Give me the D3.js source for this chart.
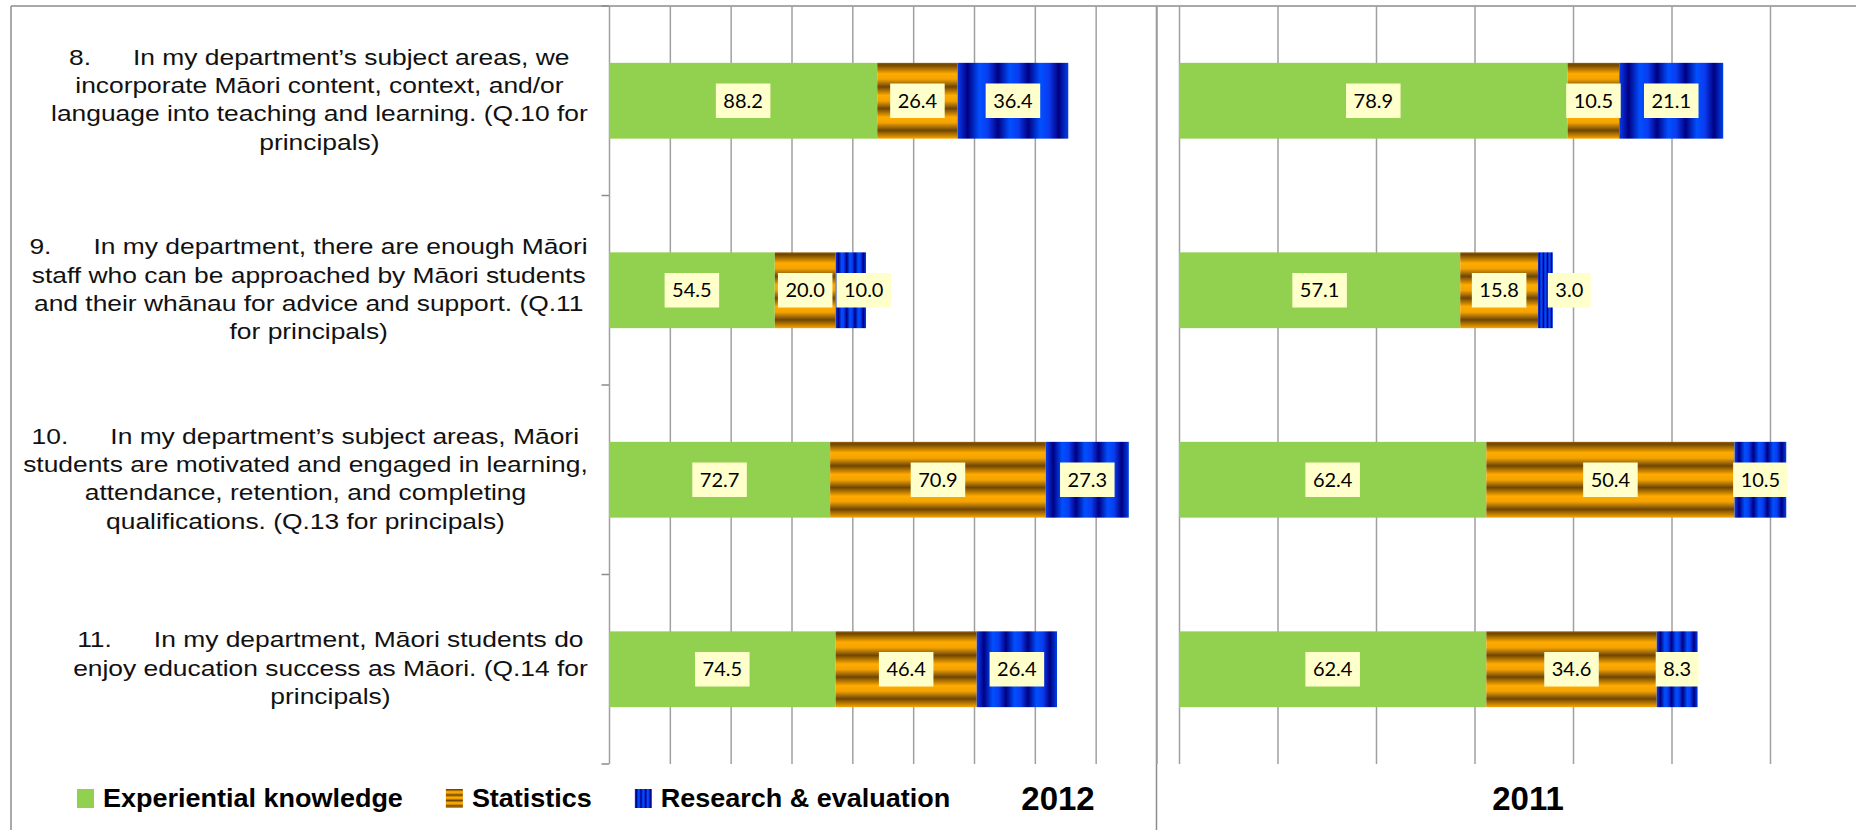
<!DOCTYPE html>
<html>
<head>
<meta charset="utf-8">
<script src="https://cdn.jsdelivr.net/npm/d3@7"></script>
<style>
    body { margin: 0; background: #ffffff; }
    svg { display: block; font-family: "Liberation Sans", Arial, sans-serif; }
    .grid line { stroke: #a0a0a0; stroke-width: 1.5; }
    .frame { stroke: #8c8c8c; stroke-width: 1.5; }
    .value-label { font-family: Lato, "Open Sans", sans-serif; font-size: 20px; fill: #000; }
    .question { font-size: 22px; fill: #111; }
    .legend-text { font-size: 25px; font-weight: bold; fill: #000; }
    .year { font-size: 33px; font-weight: bold; fill: #000; }
</style>
</head>
<body>
<svg id="chart"></svg>
<script>

// questions (one list of lines per category, "\t" = tab after the number)
var questions = [
    ["8.\tIn my department\u2019s subject areas, we",
     "incorporate M\u0101ori content, context, and/or",
     "language into teaching and learning. (Q.10 for",
     "principals)"],
    ["9.\tIn my department, there are enough M\u0101ori",
     "staff who can be approached by M\u0101ori students",
     "and their wh\u0101nau for advice and support. (Q.11",
     "for principals)"],
    ["10.\tIn my department\u2019s subject areas, M\u0101ori",
     "students are motivated and engaged in learning,",
     "attendance, retention, and completing",
     "qualifications. (Q.13 for principals)"],
    ["11.\tIn my department, M\u0101ori students do",
     "enjoy education success as M\u0101ori. (Q.14 for",
     "principals)"]
];

var seriesNames = ["Experiential knowledge", "Statistics", "Research & evaluation"];
var seriesKeys = ["exp", "stat", "res"];

var experiential2012 = [88.2, 54.5, 72.7, 74.5];
var statistics2012   = [26.4, 20.0, 70.9, 46.4];
var research2012     = [36.4, 10.0, 27.3, 26.4];

var experiential2011 = [78.9, 57.1, 62.4, 62.4];
var statistics2011   = [10.5, 15.8, 50.4, 34.6];
var research2011     = [21.1, 3.0, 10.5, 8.3];

var yearLabels = ["2012", "2011"];
var axisMax = [180, 140];
var tickStep = 20;

var w = 1856,
    h = 830;

var svg = d3.select("#chart")
            .attr("width", w)
            .attr("height", h);

var defs = svg.append("defs");

// striped gradient fills (Excel style)
var statGrad = defs.append("linearGradient")
    .attr("id", "statFill")
    .attr("x1", 0).attr("y1", 0).attr("x2", 0).attr("y2", 0.287)
    .attr("spreadMethod", "repeat");
[[0, "#93610a"], [0.1, "#6f4500"], [0.5, "#ffab00"], [0.75, "#f3a200"], [1, "#93610a"]]
    .forEach(function(s) { statGrad.append("stop").attr("offset", s[0]).attr("stop-color", s[1]); });

var resGrad = defs.append("linearGradient")
    .attr("id", "resFill")
    .attr("x1", 0).attr("y1", 0).attr("x2", 0.274).attr("y2", 0)
    .attr("spreadMethod", "repeat");
[[0, "#0a3cf0"], [0.33, "#000082"], [0.72, "#0050ff"], [1, "#0a3cf0"]]
    .forEach(function(s) { resGrad.append("stop").attr("offset", s[0]).attr("stop-color", s[1]); });

var fills = {exp: "#92d050", stat: "url(#statFill)", res: "url(#resFill)"};

var format = d3.format(".1f");

// shared category scale
var y = d3.scaleBand()
          .domain(d3.range(questions.length))
          .range([6, 764])
          .paddingInner(0.6)
          .paddingOuter(0.3);

var panels = [
    {
        year: yearLabels[0],
        values: [experiential2012, statistics2012, research2012],
        x: d3.scaleLinear().domain([0, axisMax[0]]).range([609, 1156.5]),
        yearX: 1058,
        catTicks: true
    },
    {
        year: yearLabels[1],
        values: [experiential2011, statistics2011, research2011],
        x: d3.scaleLinear().domain([0, axisMax[1]]).range([1179, 1868.5]),
        yearX: 1528,
        catTicks: false
    }
];

// outer frame
svg.append("line").attr("class", "frame")
   .attr("x1", 11).attr("x2", w).attr("y1", 6).attr("y2", 6);
svg.append("line").attr("class", "frame")
   .attr("x1", 11).attr("x2", 11).attr("y1", 6).attr("y2", h);
svg.append("line").attr("class", "frame")
   .attr("x1", 1156.5).attr("x2", 1156.5).attr("y1", 6).attr("y2", h);

panels.forEach(function(p, pi) {

    var x = p.x;
    var max = x.domain()[1];

    // vertical gridlines
    var grid = svg.append("g")
        .attr("class", "grid")
        .attr("transform", "translate(0," + y.range()[0] + ")")
        .call(d3.axisTop(x)
                .tickValues(d3.range(0, max + 1, tickStep))
                .tickSize(-(y.range()[1] - y.range()[0]))
                .tickFormat(""));
    grid.select(".domain").remove();

    // category tick marks at band edges
    if (p.catTicks) {
        svg.append("g")
           .selectAll("line")
           .data(d3.range(questions.length + 1))
           .enter()
           .append("line")
           .attr("class", "frame")
           .attr("x1", x(0) - 7.5)
           .attr("x2", x(0))
           .attr("y1", function(i) { return y.range()[0] + i * y.step(); })
           .attr("y2", function(i) { return y.range()[0] + i * y.step(); });
    }

    var rows = questions.map(function(q, i) {
        return {idx: i, exp: p.values[0][i], stat: p.values[1][i], res: p.values[2][i]};
    });

    var stacked = d3.stack().keys(seriesKeys)(rows);

    svg.append("g")
       .selectAll("g")
       .data(stacked)
       .enter()
       .append("g")
       .attr("fill", function(s) { return fills[s.key]; })
       .selectAll("rect")
       .data(function(s) { return s; })
       .enter()
       .append("rect")
       .attr("x", function(d) { return x(d[0]); })
       .attr("width", function(d) { return x(d[1]) - x(d[0]); })
       .attr("y", function(d) { return y(d.data.idx); })
       .attr("height", y.bandwidth());

    // value labels in yellow boxes; nudged right when they would collide,
    // pushed past the bar end when the segment is very thin
    var labelLayer = svg.append("g");
    rows.forEach(function(r, i) {
        var prevRight = -Infinity;
        var cy = y(i) + y.bandwidth() / 2;
        stacked.forEach(function(s) {
            var d = s[i];
            var g = labelLayer.append("g");
            var t = g.append("text")
                     .attr("class", "value-label")
                     .attr("text-anchor", "middle")
                     .attr("dy", "0.36em")
                     .text(format(d[1] - d[0]));
            var tw = t.node().getComputedTextLength();
            var bw = tw + 15, bh = 34.5;
            var segW = x(d[1]) - x(d[0]);
            var left = (x(d[0]) + x(d[1])) / 2 - bw / 2;
            if (segW < bw / 2) left = Math.max(left, x(d[1]) - 5);
            if (left < prevRight + 4) left = prevRight + 4;
            prevRight = left + bw;
            g.insert("rect", "text")
             .attr("x", -bw / 2).attr("y", -bh / 2)
             .attr("width", bw).attr("height", bh)
             .attr("fill", "#ffffcc");
            g.attr("transform", "translate(" + (left + bw / 2) + "," + cy + ")");
        });
    });

    svg.append("text")
       .attr("class", "year")
       .attr("x", p.yearX)
       .attr("y", 810)
       .attr("text-anchor", "middle")
       .text(p.year);
});

// question labels: each block right-aligned to the axis, lines centred in the block
var stretch = 1.2, lineH = 28.3, tabGap = 35, blockRight = 588;
var qLayer = svg.append("g");
questions.forEach(function(lines, i) {
    var cy = y(i) + y.bandwidth() / 2;
    var groups = lines.map(function(line, li) {
        var by = cy + 6.5 + (li - (lines.length - 1) / 2) * lineH;
        var g = qLayer.append("g");
        var parts = line.split("\t");
        var lw;
        if (parts.length === 2) {
            var num = g.append("text").attr("class", "question").text(parts[0]);
            var rest = g.append("text").attr("class", "question").text(parts[1]);
            var nw = num.node().getComputedTextLength();
            lw = nw + tabGap + rest.node().getComputedTextLength();
            num.attr("x", -lw / 2);
            rest.attr("x", -lw / 2 + nw + tabGap);
        } else {
            var t = g.append("text").attr("class", "question").attr("text-anchor", "middle").text(line);
            lw = t.node().getComputedTextLength();
        }
        return {g: g, by: by, lw: lw};
    });
    var blockW = d3.max(groups, function(d) { return d.lw; }) * stretch;
    var cx = blockRight - blockW / 2;
    groups.forEach(function(d) {
        d.g.attr("transform", "translate(" + cx + "," + d.by + ") scale(" + stretch + ",1)");
    });
});

// legend
var legendStretch = 1.08;
var lx = 77;
seriesKeys.forEach(function(k, i) {
    svg.append("rect")
       .attr("x", lx).attr("y", 789)
       .attr("width", 17).attr("height", 19)
       .attr("fill", fills[k]);
    var g = svg.append("g")
               .attr("transform", "translate(" + (lx + 26) + ",807) scale(" + legendStretch + ",1)");
    var t = g.append("text").attr("class", "legend-text").text(seriesNames[i]);
    lx = lx + 26 + t.node().getComputedTextLength() * legendStretch + 43;
});

</script>
</body>
</html>
